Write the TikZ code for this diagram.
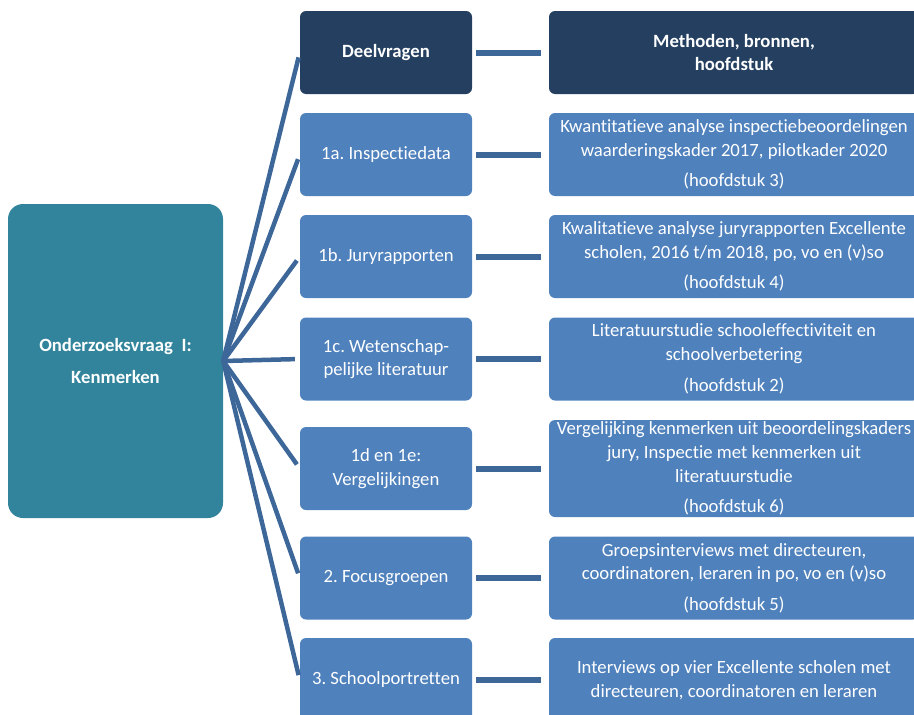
\documentclass[tikz,border=0pt]{standalone}
\usepackage{fontspec}
\setmainfont[Ligatures=NoCommon]{Carlito}
\usetikzlibrary{positioning}
\definecolor{kopblauw}{HTML}{243F60}
\definecolor{vakblauw}{HTML}{4F81BD}
\definecolor{vraagteal}{HTML}{31849B}
\definecolor{lijnblauw}{HTML}{3E6799}
\frenchspacing

\begin{document}
\begin{tikzpicture}[x=1pt,y=-1pt,
  font=\fontsize{18.7}{23.7}\selectfont,
  vak/.style={rounded corners=6pt,text=white,align=center,inner sep=0pt,fill=vakblauw},
  links/.style={vak,minimum width=172pt,minimum height=83pt},
  rechts/.style={vak,minimum width=370pt,minimum height=83pt},
  kop/.style={fill=kopblauw,font=\fontsize{18.7}{23.7}\selectfont\bfseries},
  waaier/.style={draw=lijnblauw,line width=4.5pt,shorten >=5pt},
  verbind/.style={draw=lijnblauw,line width=6pt,shorten <=4pt,shorten >=8pt}]
\useasboundingbox (0,0) rectangle (914,715);
\clip (0,0) rectangle (914,715);

% hoofdvraag
\node[vak,fill=vraagteal,rounded corners=15pt,minimum width=215pt,minimum height=314pt,
  font=\fontsize{18.7}{23.7}\selectfont\bfseries] (vraag) at (115.5,361)
  {Onderzoeksvraag\ \ I:\\[9pt]Kenmerken};
\coordinate (hub) at (vraag.east);

% deelvragen
\node[links,kop] (dv) at (386,52.5) {Deelvragen};
\node[links] (d1a) at (386,154.5) {1a. Inspectiedata};
\node[links] (d1b) at (386,256.5) {1b. Juryrapporten};
\node[links] (d1c) at (386,359) {1c. Wetenschap-\\pelijke literatuur};
\node[links] (d1d) at (386,468.5) {1d en 1e:\\Vergelijkingen};
\node[links] (d2) at (386,578) {2. Focusgroepen};
\node[links,minimum height=84pt] (d3) at (386,680) {3. Schoolportretten};

% methoden
\node[rechts,kop] (mb) at (734,52.5) {Methoden, bronnen,\\hoofdstuk};
\node[rechts] (m1a) at (734,154.5) {Kwantitatieve analyse inspectiebeoordelingen\\waarderingskader 2017, pilotkader 2020\\[7pt](hoofdstuk 3)};
\node[rechts] (m1b) at (734,256.5) {Kwalitatieve analyse juryrapporten Excellente\\scholen, 2016 t/m 2018, po, vo en (v)so\\[7pt](hoofdstuk 4)};
\node[rechts] (m1c) at (734,359) {Literatuurstudie schooleffectiviteit en\\schoolverbetering\\[7pt](hoofdstuk 2)};
\node[rechts,minimum height=97pt] (m1d) at (734,468.5) {Vergelijking kenmerken uit beoordelingskaders\\jury, Inspectie met kenmerken uit\\literatuurstudie\\[7pt](hoofdstuk 6)};
\node[rechts] (m2) at (734,578) {Groepsinterviews met directeuren,\\coordinatoren, leraren in po, vo en (v)so\\[7pt](hoofdstuk 5)};
\node[rechts,minimum height=84pt] (m3) at (734,680) {Interviews op vier Excellente scholen met\\directeuren, coordinatoren en leraren};

\foreach \d in {dv,d1a,d1b,d1c,d1d,d2,d3}
  \draw[waaier] (hub) -- (\d.west);
\foreach \d/\m in {dv/mb,d1a/m1a,d1b/m1b,d1c/m1c,d1d/m1d,d2/m2,d3/m3}
  \draw[verbind] (\d) -- (\m);
\end{tikzpicture}
\end{document}
